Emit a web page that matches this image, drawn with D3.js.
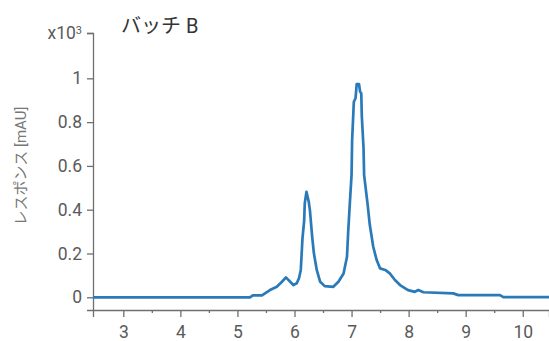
<!DOCTYPE html>
<html>
<head>
<meta charset="utf-8">
<script src="https://cdn.jsdelivr.net/npm/d3@7"></script>
<style>
  html, body { margin: 0; padding: 0; background: #fff; }
  svg { display: block; font-family: Roboto, "Noto Sans CJK JP", sans-serif; }
</style>
</head>
<body>
<svg id="chart" width="549" height="341"></svg>
<script>
// Chromatogram trace: retention time (min) vs. response (mAU)
const retentionTime = [
  2.47, 5.22, 5.27, 5.43, 5.57, 5.69, 5.78, 5.85, 5.98, 6.04, 6.08, 6.11, 6.14,
  6.17, 6.18, 6.21, 6.23, 6.25, 6.27, 6.31, 6.34, 6.39, 6.45, 6.53, 6.68, 6.77,
  6.86, 6.92, 6.94, 6.97, 7.00, 7.01, 7.04, 7.07, 7.09, 7.13, 7.15, 7.17, 7.18,
  7.21, 7.22, 7.28, 7.32, 7.38, 7.44, 7.50, 7.59, 7.67, 7.76, 7.85, 7.94, 7.99,
  8.11, 8.17, 8.26, 8.78, 8.87, 9.60, 9.66, 10.46
];
const response = [
  0, 0, 9, 9, 33, 48, 71, 91, 56, 64, 88, 125, 269,
  353, 429, 482, 459, 436, 398, 276, 201, 125, 71, 51, 48, 71,
  109, 185, 294, 430, 558, 718, 893, 909, 974, 974, 939, 932, 825,
  681, 558, 428, 330, 231, 170, 132, 125, 109, 79, 56, 41, 33,
  25, 33, 23, 18, 10, 10, 1, 1
];
const xMajorTicks = [3, 4, 5, 6, 7, 8, 9, 10];
const xMinorTicks = [3.5, 4.5, 5.5, 6.5, 7.5, 8.5, 9.5];
const yTicks = [0, 200, 400, 600, 800, 1000];
const titleText = "バッチ B";
const yLabelText = "レスポンス [mAU]";

const fontFamily = 'Roboto, "Noto Sans CJK JP", sans-serif';
const svg = d3.select("#chart");
const plot = { left: 93, right: 549, top: 33, bottom: 310 };

const x = d3.scaleLinear().domain([2.469, 10.46]).range([plot.left, plot.right]);
const yMax = 1207;
const y = d3.scaleLinear().domain([-58, yMax]).range([plot.bottom, plot.top]);

const axisColor = "#6f6f6f";
const labelColor = "#5a5a5a";

// X axis: major and minor ticks
const xAxisG = svg.append("g").attr("transform", `translate(0,${plot.bottom})`)
  .call(d3.axisBottom(x).tickValues(xMajorTicks).tickSize(7).tickPadding(9).tickFormat(d3.format("d")));
svg.append("g").attr("transform", `translate(0,${plot.bottom})`)
  .call(d3.axisBottom(x).tickValues(xMinorTicks).tickSize(3).tickFormat(""))
  .call(g => g.select(".domain").remove());

// Y axis with the exponent marker at its top
const yAxisG = svg.append("g").attr("transform", `translate(${plot.left},0)`)
  .call(d3.axisLeft(y).tickValues([...yTicks, yMax]).tickSize(6).tickPadding(5)
    .tickFormat(d => d === yMax ? "" : d3.format("~g")(d / 1000)));

// exponent label "x10³"
const expText = yAxisG.selectAll(".tick").filter(d => d === yMax).select("text");
expText.append("tspan").text("x10");
expText.append("tspan").attr("dy", "-0.45em").attr("font-size", "11px").text("3");

svg.selectAll("g").attr("font-family", fontFamily);
[xAxisG, yAxisG].forEach(g => {
  g.selectAll(".domain").attr("stroke", axisColor).attr("stroke-width", 1.3);
  g.selectAll("text").attr("fill", labelColor).attr("font-size", "17.5px");
});
svg.selectAll(".tick line").attr("stroke", axisColor).attr("stroke-width", 1.3);

// Trace
const line = d3.line()
  .x((d, i) => x(retentionTime[i]))
  .y(d => y(d));

svg.append("path")
  .datum(response)
  .attr("fill", "none")
  .attr("stroke", "#2a7ab9")
  .attr("stroke-width", 2.7)
  .attr("stroke-linejoin", "round")
  .attr("d", line);

// Title
svg.append("text")
  .attr("x", 121).attr("y", 33)
  .attr("font-size", "20px").attr("fill", "#333")
  .text(titleText);

// Y axis label
svg.append("text")
  .attr("transform", `translate(26,166) rotate(-90)`)
  .attr("text-anchor", "middle")
  .attr("font-size", "15px").attr("fill", "#777")
  .text(yLabelText);
</script>
</body>
</html>
